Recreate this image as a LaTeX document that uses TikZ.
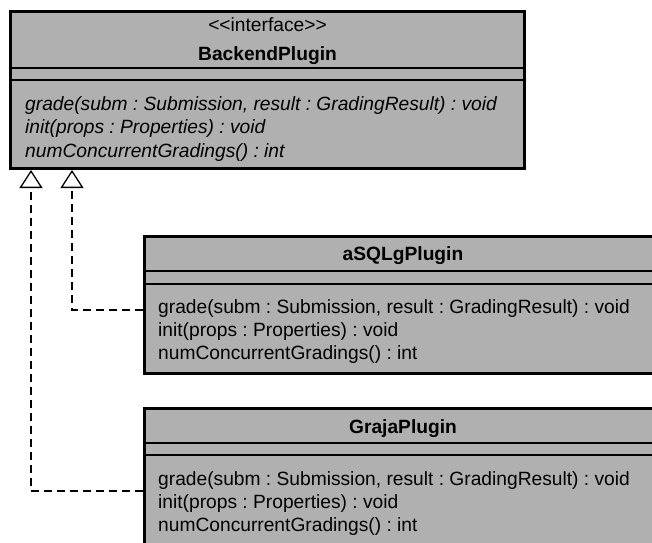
\documentclass[tikz,border=0pt]{standalone}
\usepackage{fontspec}
\setmainfont{Liberation Sans}
\usetikzlibrary{arrows.meta}
\definecolor{boxgray}{RGB}{176,176,176}
\tikzset{
  umlbox/.style={draw=black, fill=boxgray, line width=3pt, rectangle, inner sep=0pt, anchor=north west},
  compsep/.style={draw=black, line width=1.3pt},
  txt/.style={inner sep=0pt, font=\fontsize{19.2}{23}\selectfont\frenchspacing},
  realize/.style={draw=black, line width=1.4pt, dash pattern=on 8pt off 5pt,
     -{Triangle[open, length=18pt, width=23pt, line width=1.3pt]}}
}
\begin{document}
\begin{tikzpicture}[x=1pt, y=-1pt]
\useasboundingbox (0,0) rectangle (652,542);
\clip (0,0) rectangle (652,542);
\fill[white] (0,0) rectangle (652,542);
% BackendPlugin
\node[umlbox, minimum width=514pt, minimum height=157pt] (bp) at (9,10) {};
\draw[compsep] (bp.west |- 0,68) -- (bp.east |- 0,68);
\draw[compsep] (bp.west |- 0,80) -- (bp.east |- 0,80);
\node[txt, anchor=base] (bpst) at (bp.north |- 0,31) {\textless{}\textless{}interface\textgreater{}\textgreater{}};
\node[txt, anchor=base] (bpn) at (bp.north |- 0,60) {\bfseries BackendPlugin};
\node[txt, anchor=base west] (bpm1) at (25,110) {\itshape grade(subm : Submission, result : GradingResult) : void};
\node[txt, anchor=base west] (bpm2) at (25,133) {\itshape init(props : Properties) : void};
\node[txt, anchor=base west] (bpm3) at (25,157) {\itshape numConcurrentGradings() : int};
% aSQLgPlugin
\node[umlbox, minimum width=517pt, minimum height=137pt] (sql) at (143,235) {};
\draw[compsep] (sql.west |- 0,271) -- (sql.east |- 0,271);
\draw[compsep] (sql.west |- 0,284) -- (sql.east |- 0,284);
\node[txt, anchor=base] (sqln) at (sql.north |- 0,260) {\bfseries aSQLgPlugin};
\node[txt, anchor=base west] (sqlm1) at (158,313) {grade(subm : Submission, result : GradingResult) : void};
\node[txt, anchor=base west] (sqlm2) at (158,336) {init(props : Properties) : void};
\node[txt, anchor=base west] (sqlm3) at (158,359) {numConcurrentGradings() : int};
% GrajaPlugin
\node[umlbox, minimum width=517pt, minimum height=200pt] (gr) at (143,407) {};
\draw[compsep] (gr.west |- 0,443) -- (gr.east |- 0,443);
\draw[compsep] (gr.west |- 0,455) -- (gr.east |- 0,455);
\node[txt, anchor=base] (grn) at (gr.north |- 0,433) {\bfseries GrajaPlugin};
\node[txt, anchor=base west] (grm1) at (158,485) {grade(subm : Submission, result : GradingResult) : void};
\node[txt, anchor=base west] (grm2) at (158,508) {init(props : Properties) : void};
\node[txt, anchor=base west] (grm3) at (158,531) {numConcurrentGradings() : int};
% realizations
\draw[realize] (sql.west |- 0,310) -| ([xshift=63pt]bp.south west);
\draw[realize] (gr.west |- 0,491) -| ([xshift=22pt]bp.south west);
\end{tikzpicture}
\end{document}
